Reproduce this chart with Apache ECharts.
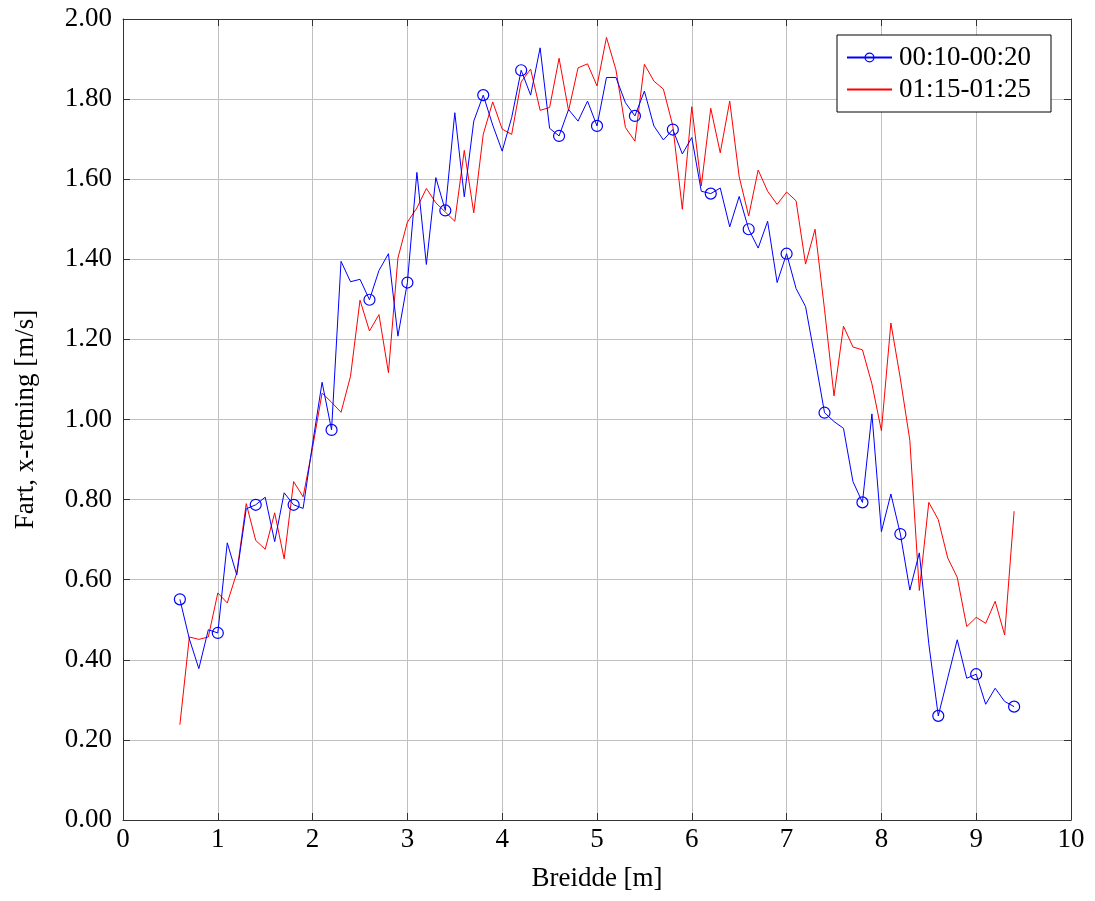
<!DOCTYPE html>
<html>
<head>
<meta charset="utf-8">
<script src="https://cdn.jsdelivr.net/npm/echarts@6/dist/echarts.min.js"></script>
<style>
html,body{margin:0;padding:0;background:#fff;}
#chart{width:1095px;height:901px;}
</style>
</head>
<body>
<div id="chart"></div>
<script>
const xValues = [0.6,0.7,0.8,0.9,1.0,1.1,1.2,1.3,1.4,1.5,1.6,1.7,1.8,1.9,2.0,2.1,2.2,2.3,2.4,2.5,2.6,2.7,2.8,2.9,3.0,3.1,3.2,3.3,3.4,3.5,3.6,3.7,3.8,3.9,4.0,4.1,4.2,4.3,4.4,4.5,4.6,4.7,4.8,4.9,5.0,5.1,5.2,5.3,5.4,5.5,5.6,5.7,5.8,5.9,6.0,6.1,6.2,6.3,6.4,6.5,6.6,6.7,6.8,6.9,7.0,7.1,7.2,7.3,7.4,7.5,7.6,7.7,7.8,7.9,8.0,8.1,8.2,8.3,8.4,8.5,8.6,8.7,8.8,8.9,9.0,9.1,9.2,9.3,9.4];

const series1Name = "00:10-00:20";
const series1Values = [0.551,0.452,0.378,0.475,0.467,0.692,0.612,0.777,0.787,0.806,0.695,0.817,0.787,0.778,0.940,1.093,0.974,1.395,1.344,1.350,1.299,1.372,1.414,1.208,1.342,1.617,1.387,1.604,1.522,1.766,1.556,1.745,1.810,1.735,1.670,1.754,1.872,1.810,1.928,1.727,1.708,1.774,1.745,1.795,1.733,1.854,1.854,1.791,1.758,1.820,1.733,1.698,1.724,1.663,1.704,1.570,1.564,1.578,1.481,1.557,1.475,1.428,1.495,1.342,1.414,1.327,1.282,1.152,1.017,0.995,0.978,0.845,0.793,1.014,0.720,0.814,0.714,0.574,0.667,0.440,0.260,0.355,0.450,0.354,0.364,0.289,0.329,0.296,0.283];

const series2Name = "01:15-01:25";
const series2Values = [0.238,0.457,0.451,0.457,0.567,0.542,0.617,0.790,0.698,0.676,0.767,0.652,0.845,0.807,0.930,1.066,1.043,1.018,1.108,1.298,1.221,1.262,1.117,1.403,1.493,1.528,1.577,1.541,1.518,1.495,1.672,1.516,1.712,1.793,1.725,1.712,1.843,1.875,1.772,1.779,1.902,1.771,1.878,1.888,1.833,1.954,1.873,1.729,1.695,1.887,1.845,1.825,1.733,1.525,1.781,1.583,1.777,1.666,1.795,1.606,1.508,1.623,1.570,1.537,1.568,1.546,1.388,1.475,1.275,1.059,1.233,1.181,1.174,1.089,0.972,1.241,1.102,0.948,0.573,0.793,0.750,0.654,0.606,0.483,0.506,0.491,0.546,0.462,0.771];

const xAxisTitle = "Breidde [m]";
const yAxisTitle = "Fart, x-retning [m/s]";

const FONT = "Liberation Serif";
const FS = 27;
const markEvery = 4;

const s1Data = xValues.map((x, i) => ({
  value: [x, series1Values[i]],
  symbol: (i % markEvery === 0) ? 'circle' : 'none'
}));
const s2Data = xValues.map((x, i) => [x, series2Values[i]]);

const chart = echarts.init(document.getElementById('chart'), null, {renderer: 'canvas'});

const axisLineStyle = {color: '#333', width: 1};
const tickStyle = {show: true, inside: true, length: 7, lineStyle: {color: '#333', width: 1}};

chart.setOption({
  animation: false,
  backgroundColor: '#fff',
  textStyle: {fontFamily: FONT, color: '#000'},
  grid: {left: 123, right: 24, top: 19, bottom: 81, containLabel: false},
  legend: {
    orient: 'vertical',
    right: 44,
    top: 35,
    backgroundColor: '#fff',
    borderColor: '#000',
    borderWidth: 1,
    borderRadius: 0,
    padding: [9, 20, 9, 9],
    itemGap: 5,
    itemWidth: 45,
    itemHeight: 11,
    itemStyle: {borderWidth: 1.2},
    textStyle: {fontFamily: FONT, fontSize: FS, color: '#000', lineHeight: 27, padding: [0,0,0,2]},
    data: [
      {name: series1Name},
      {name: series2Name, itemStyle: {color: 'rgba(0,0,0,0)', borderColor: 'rgba(0,0,0,0)', borderWidth: 0}}
    ]
  },
  xAxis: [{
    type: 'value', position: 'bottom', min: 0, max: 10, interval: 1,
    name: xAxisTitle, nameLocation: 'middle', nameGap: 45,
    nameTextStyle: {fontFamily: FONT, fontSize: FS, color: '#000'},
    axisLine: {show: true, onZero: false, lineStyle: axisLineStyle},
    axisTick: tickStyle,
    axisLabel: {fontFamily: FONT, fontSize: FS, color: '#000', margin: 6},
    splitLine: {show: true, lineStyle: {color: '#c0c0c0', width: 1}}
  }, {
    type: 'value', position: 'top', min: 0, max: 10, interval: 1,
    axisLine: {show: true, onZero: false, lineStyle: axisLineStyle},
    axisTick: tickStyle,
    axisLabel: {show: false},
    splitLine: {show: false}
  }],
  yAxis: [{
    type: 'value', position: 'left', min: 0, max: 2, interval: 0.2,
    name: yAxisTitle, nameLocation: 'middle', nameGap: 84, nameRotate: 90,
    nameTextStyle: {fontFamily: FONT, fontSize: FS, color: '#000'},
    axisLine: {show: true, onZero: false, lineStyle: axisLineStyle},
    axisTick: tickStyle,
    axisLabel: {fontFamily: FONT, fontSize: FS, color: '#000', margin: 11,
      formatter: v => v.toFixed(2)},
    splitLine: {show: true, lineStyle: {color: '#c0c0c0', width: 1}}
  }, {
    type: 'value', position: 'right', min: 0, max: 2, interval: 0.2,
    axisLine: {show: true, onZero: false, lineStyle: axisLineStyle},
    axisTick: tickStyle,
    axisLabel: {show: false},
    splitLine: {show: false}
  }],
  series: [{
    name: series1Name,
    type: 'line',
    xAxisIndex: 0, yAxisIndex: 0,
    data: s1Data,
    symbol: 'circle',
    symbolSize: 11,
    showAllSymbol: true,
    lineStyle: {color: '#0000ff', width: 1},
    itemStyle: {color: 'rgba(255,255,255,0)', borderColor: '#0000ff', borderWidth: 1.2},
    emphasis: {disabled: true},
    z: 3
  }, {
    name: series2Name,
    type: 'line',
    xAxisIndex: 0, yAxisIndex: 0,
    data: s2Data,
    symbol: 'none',
    lineStyle: {color: '#ff0000', width: 1},
    itemStyle: {color: '#ff0000'},
    emphasis: {disabled: true},
    z: 2
  }]
});
</script>
</body>
</html>
